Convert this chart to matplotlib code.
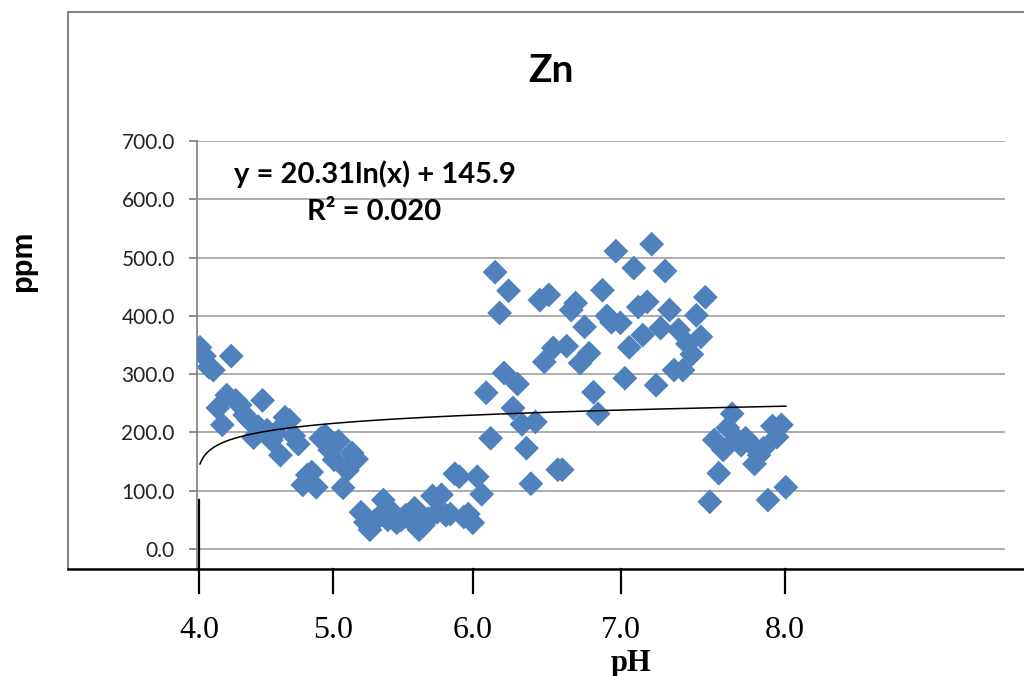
import numpy as np
import matplotlib
matplotlib.use('Agg')
import matplotlib.pyplot as plt
from matplotlib.lines import Line2D

# Zn concentration (ppm) for each sample, samples sorted by pH
zn_ppm = [346, 331, 312, 307, 242, 213, 264, 331, 255, 247, 230, 221, 191, 210, 255, 204, 187, 200, 161,
          226, 221, 194, 180, 110, 127, 132, 106, 190, 195, 170, 153, 185, 105, 135, 165, 154,
          63, 46, 33, 48, 55, 84, 50, 63, 45, 50, 58, 50, 70, 33, 41, 52, 91, 63, 93, 58, 60, 129, 124,
          55, 60, 45, 124, 94,
          268, 190, 475, 405, 302, 443, 242, 283, 214, 173, 112, 218, 427, 321, 436, 345, 136, 136,
          348, 410, 422, 319, 381, 336, 269, 232, 444, 400, 389, 511, 388, 293, 346, 482, 415, 367,
          424, 523, 281, 379, 477, 410, 307, 376, 307, 352, 334, 401, 364, 432,
          81, 187, 130, 170, 208, 232, 189, 178, 190, 182, 146, 161, 173, 84, 211, 192, 213, 106]
sample_no = np.arange(1, len(zn_ppm) + 1)

# pH labels and where they fall along the sample order
ph_labels = ['4.0', '5.0', '6.0', '7.0', '8.0']
ph_pos = [0.8, 30.7, 62.0, 95.1, 131.8]

# log trendline reported by excel
trend_a, trend_b = 20.31, 145.9
y_ticks = [0, 100, 200, 300, 400, 500, 600, 700]

W, H = 1024, 676
fig = plt.figure(figsize=(W / 100, H / 100), dpi=100)

def fx(px):
    return px / W

def fy(py):
    return 1 - py / H

ax = fig.add_axes([fx(197), fy(569), fx(1005) - fx(197), fy(141) - fy(569)])
ax.set_xlim(0.34, 181.0)
ax.set_ylim(-34.3, 700)

for yt in y_ticks:
    ax.axhline(yt, color='#a6a6a6', lw=1.3, zorder=1)

ax.scatter(sample_no, zn_ppm, marker='D', s=160, color='#4f81bd', edgecolors='none', zorder=3)

xt = np.linspace(1, len(zn_ppm), 300)
ax.plot(xt, trend_a * np.log(xt) + trend_b, color='black', lw=1.1, zorder=4)

for s in ['top', 'right', 'bottom']:
    ax.spines[s].set_visible(False)
ax.spines['left'].set_color('#868686')
ax.spines['left'].set_linewidth(1.3)
ax.set_xticks([])
ax.set_yticks(y_ticks)
ax.set_yticklabels([f'{v:.1f}' for v in y_ticks], family=['Lato', 'DejaVu Sans'], fontsize=15, color='#222222')
ax.tick_params(axis='y', direction='out', length=6, width=1.3, color='#868686', pad=10)

# pH axis drawn below the chart
trans = ax.get_xaxis_transform()
for pos, lab in zip(ph_pos, ph_labels):
    top = 0.161 if lab == '4.0' else 0.0
    ax.add_line(Line2D([pos, pos], [top, -0.056], transform=trans, color='black', lw=1.6, clip_on=False))
    ax.text(pos, -0.143, lab, transform=trans, ha='center', va='center',
            family='Liberation Serif', fontsize=23)

# chart frame
fig.add_artist(Line2D([fx(68), fx(68)], [fy(12), fy(569)], color='#868686', lw=1.5))
fig.add_artist(Line2D([fx(68), 1], [fy(12), fy(12)], color='#868686', lw=1.5))
fig.add_artist(Line2D([fx(68), 1], [fy(569), fy(569)], color='black', lw=1.8))

fig.text(fx(551), fy(71), 'Zn', ha='center', va='center', family=['Lato', 'DejaVu Sans'],
         fontsize=28, fontweight='bold')
fig.text(fx(23), fy(261), 'ppm', ha='center', va='center', rotation=90,
         family='Liberation Sans', fontsize=21, fontweight='bold')
fig.text(fx(631), fy(663), 'pH', ha='center', va='center', family='Liberation Serif',
         fontsize=22, fontweight='bold')
fig.text(fx(375), fy(174), 'y = 20.31ln(x) + 145.9', ha='center', va='center',
         family=['Lato', 'DejaVu Sans'], fontsize=21, fontweight='bold')
fig.text(fx(374), fy(212), 'R² = 0.020', ha='center', va='center',
         family=['Lato', 'DejaVu Sans'], fontsize=21, fontweight='bold')

fig.savefig('out.png', dpi=100)
